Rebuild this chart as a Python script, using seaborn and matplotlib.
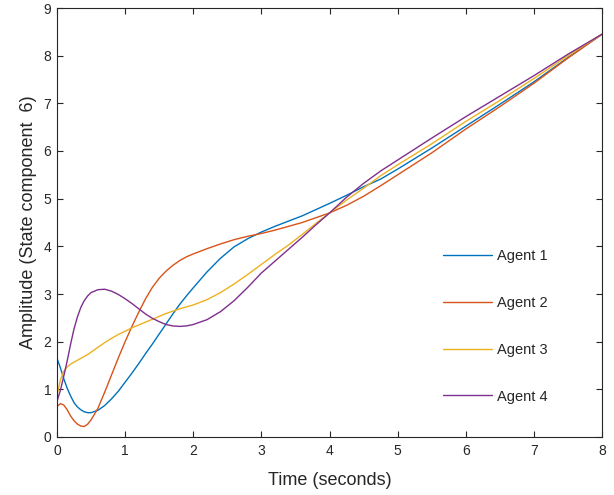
import numpy as np
import pandas as pd
import seaborn as sns
import matplotlib
matplotlib.use("Agg")
import matplotlib.pyplot as plt

# sample times (seconds) and values
t = [0, 0.05, 0.1, 0.15, 0.2, 0.25, 0.3, 0.35, 0.4, 0.45, 0.5, 0.6, 0.7, 0.8,
     0.9, 1.0, 1.1, 1.2, 1.3, 1.4, 1.5, 1.6, 1.7, 1.8, 1.9, 2.0, 2.2, 2.4, 2.6,
     2.8, 3.0, 3.2, 3.4, 3.6, 3.8, 4.0, 4.25, 4.5, 4.75, 5.0, 5.5, 6.0, 6.5,
     7.0, 7.5, 8.0]

agent1 = [1.65, 1.45, 1.22, 1.02, 0.86, 0.72, 0.63, 0.57, 0.53, 0.51, 0.51,
          0.56, 0.66, 0.80, 0.96, 1.15, 1.34, 1.54, 1.75, 1.95, 2.16, 2.37,
          2.58, 2.78, 2.96, 3.13, 3.46, 3.75, 3.99, 4.16, 4.30, 4.42, 4.53,
          4.64, 4.77, 4.90, 5.07, 5.25, 5.41, 5.62, 6.06, 6.52, 6.98, 7.45,
          7.96, 8.45]

agent2 = [0.64, 0.70, 0.67, 0.57, 0.44, 0.34, 0.27, 0.23, 0.22, 0.27, 0.36,
          0.60, 0.94, 1.30, 1.66, 2.00, 2.32, 2.62, 2.90, 3.14, 3.33, 3.48,
          3.60, 3.70, 3.78, 3.84, 3.95, 4.05, 4.14, 4.21, 4.27, 4.34, 4.42,
          4.50, 4.60, 4.70, 4.86, 5.05, 5.27, 5.50, 5.96, 6.46, 6.93, 7.42,
          7.95, 8.45]

agent3 = [0.87, 1.20, 1.38, 1.47, 1.53, 1.57, 1.61, 1.65, 1.69, 1.73, 1.78,
          1.88, 1.98, 2.07, 2.15, 2.22, 2.29, 2.35, 2.41, 2.47, 2.53, 2.59,
          2.64, 2.69, 2.73, 2.77, 2.88, 3.03, 3.21, 3.41, 3.62, 3.83, 4.03,
          4.25, 4.48, 4.70, 4.97, 5.22, 5.48, 5.71, 6.15, 6.62, 7.06, 7.52,
          8.00, 8.45]

agent4 = [0.75, 0.98, 1.28, 1.60, 1.95, 2.27, 2.52, 2.72, 2.86, 2.96, 3.03,
          3.09, 3.10, 3.06, 2.99, 2.90, 2.80, 2.69, 2.58, 2.49, 2.42, 2.36,
          2.33, 2.32, 2.33, 2.36, 2.46, 2.63, 2.86, 3.14, 3.44, 3.69, 3.94,
          4.19, 4.45, 4.70, 5.03, 5.32, 5.58, 5.81, 6.27, 6.72, 7.15, 7.58,
          8.03, 8.45]

labels = ["Agent 1", "Agent 2", "Agent 3", "Agent 4"]
colors = ["#0072BD", "#D95319", "#EDB120", "#7E2F8E"]

df = pd.concat(
    [pd.DataFrame({"t": t, "value": v, "agent": name})
     for name, v in zip(labels, [agent1, agent2, agent3, agent4])],
    ignore_index=True,
)

sns.set_theme(style="ticks")
plt.rcParams["font.family"] = ["Liberation Sans", "DejaVu Sans"]
ink = "#262626"

fig = plt.figure(figsize=(6.14, 4.95), dpi=100)
ax = fig.add_axes([57 / 614, 58 / 495, 545 / 614, 429 / 495])

sns.lineplot(data=df, x="t", y="value", hue="agent",
             palette=dict(zip(labels, colors)), estimator=None, sort=False,
             linewidth=1.0, ax=ax)

ax.set_xlim(0, 8)
ax.set_ylim(0, 9)
ax.set_xticks(range(0, 9))
ax.set_yticks(range(0, 10))
ax.set_xlabel("Time (seconds)", fontsize=13, color=ink, labelpad=10)
ax.set_ylabel("Amplitude (State component  6)", fontsize=13, color=ink,
              labelpad=5)
ax.tick_params(direction="in", length=4, width=0.8, colors=ink,
               labelsize=10, top=True, right=True, pad=5)
ax.tick_params(axis="y", pad=4)
for s in ax.spines.values():
    s.set_visible(True)
    s.set_color(ink)
    s.set_linewidth(0.8)

handles, labs = ax.get_legend_handles_labels()
ax.legend(handles, labs, loc="upper left", bbox_to_anchor=(0.708, 0.438),
          frameon=False, fontsize=10.5, handlelength=3.4, handletextpad=0.3,
          labelspacing=2.25, borderpad=0, borderaxespad=0)

fig.savefig("out.png", dpi=100)
plt.close(fig)
